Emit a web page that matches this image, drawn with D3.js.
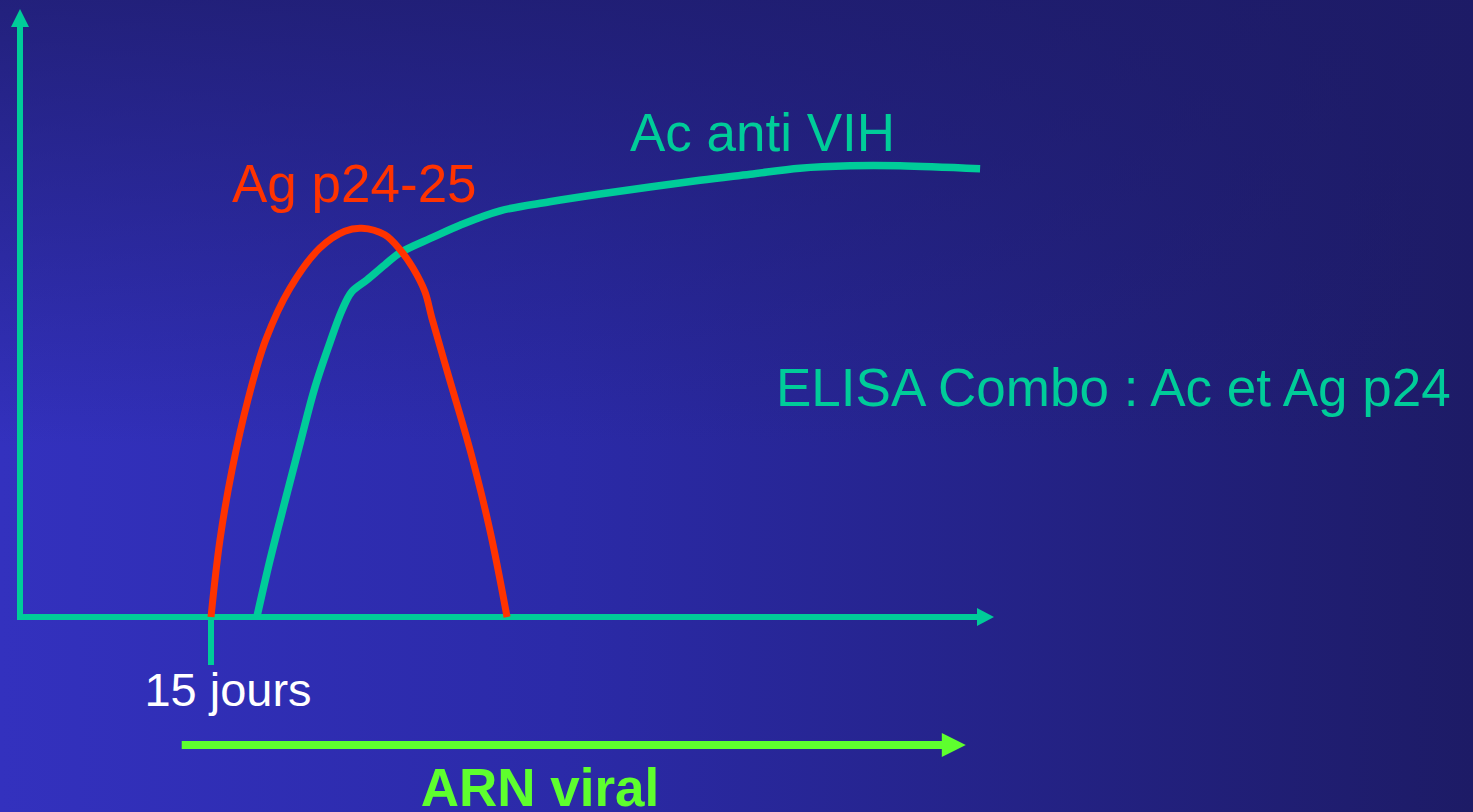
<!DOCTYPE html>
<html>
<head>
<meta charset="utf-8">
<script src="https://cdn.jsdelivr.net/npm/d3@7/dist/d3.min.js"></script>
<style>
  html, body { margin: 0; padding: 0; background: #22207c; overflow: hidden; }
  svg { display: block; }
  text { font-family: "Liberation Sans", Arial, sans-serif; }
</style>
</head>
<body>
<svg id="chart" width="1473" height="812"></svg>
<script>
// Time after infection, in days
const agDays   = [15.0, 15.7, 16.65, 17.9, 19.3, 21.2, 23.55, 25.5, 26.85, 28.65, 29.85, 30.85, 31.8, 32.35, 33.75, 35.35, 36.9, 38.25];
// Ag p24-25 level (relative units)
const agLevel  = [0, 12.8, 24.5, 36.2, 46.2, 54.8, 61.5, 64.3, 64.8, 63.7, 61.2, 58.2, 54.2, 49.8, 39.5, 27.8, 14.5, 0];

const acDays   = [18.6, 19.6, 20.8, 22.0, 23.15, 24.35, 25.3, 26.05, 27.25, 28.65, 29.85, 32.45, 34.55, 37.7, 41.6, 45.55, 53.4, 57.35, 61.25, 65.2, 69.1, 75.4];
// Ac anti VIH level (relative units)
const acLevel  = [0, 9.2, 19.2, 29.0, 38.2, 45.8, 51.2, 54.2, 56.2, 58.7, 60.7, 63.3, 65.3, 67.7, 69.2, 70.5, 72.8, 73.8, 74.8, 75.2, 75.2, 74.7];

const tickDay   = 15;
const tickLabel = "15 jours";
const arnSpan   = [12.7, 74.2];
const labels = {
  ag: "Ag p24-25",
  ac: "Ac anti VIH",
  elisa: "ELISA Combo : Ac et Ag p24",
  arn: "ARN viral"
};

const W = 1473, H = 812;
const TEAL = "#00cc99", RED = "#ff3300", GREEN = "#5eff2e";

const svg = d3.select("#chart");
const defs = svg.append("defs");

// Slide background: bright at the lower left, darker towards the right and the top
const gH = defs.append("linearGradient").attr("id", "bgH")
  .attr("x1", "0").attr("y1", "0").attr("x2", "1").attr("y2", "0");
gH.append("stop").attr("offset", "0").attr("stop-color", "#3331be");
gH.append("stop").attr("offset", "0.38").attr("stop-color", "#2b2aa8");
gH.append("stop").attr("offset", "1").attr("stop-color", "#1d1b66");
const gV = defs.append("linearGradient").attr("id", "bgV")
  .attr("x1", "0").attr("y1", "0").attr("x2", "0").attr("y2", "1");
gV.append("stop").attr("offset", "0").attr("stop-color", "#1d1b66").attr("stop-opacity", 0.75);
gV.append("stop").attr("offset", "0.55").attr("stop-color", "#1d1b66").attr("stop-opacity", 0);
svg.append("rect").attr("width", W).attr("height", H).attr("fill", "url(#bgH)");
svg.append("rect").attr("width", W).attr("height", H).attr("fill", "url(#bgV)");

const x = d3.scaleLinear().domain([0, 75]).range([20, 975]);
const y = d3.scaleLinear().domain([0, 100]).range([617, 17]);

// Axes with arrowheads
const axisG = svg.append("g");
axisG.append("line")
  .attr("x1", x(0)).attr("x2", x(0))
  .attr("y1", y(0)).attr("y2", y(100) + 8)
  .attr("stroke", TEAL).attr("stroke-width", 6);
axisG.append("path")
  .attr("d", `M${x(0)},${y(100) - 8} L${x(0) - 9},${y(100) + 10} L${x(0) + 9},${y(100) + 10} Z`)
  .attr("fill", TEAL);
axisG.append("line")
  .attr("x1", x(0) - 3).attr("x2", x(75) + 4)
  .attr("y1", y(0)).attr("y2", y(0))
  .attr("stroke", TEAL).attr("stroke-width", 6);
axisG.append("path")
  .attr("d", `M${x(75) + 19},${y(0)} L${x(75) + 2},${y(0) - 9} L${x(75) + 2},${y(0) + 9} Z`)
  .attr("fill", TEAL);

// 15-day tick and label
axisG.append("line")
  .attr("x1", x(tickDay)).attr("x2", x(tickDay))
  .attr("y1", y(0)).attr("y2", y(0) + 48)
  .attr("stroke", TEAL).attr("stroke-width", 6);
svg.append("text")
  .attr("x", x(tickDay) + 17).attr("y", 706)
  .attr("text-anchor", "middle")
  .attr("fill", "#ffffff").attr("font-size", 47)
  .text(tickLabel);

// Curves
const line = d3.line()
  .x(d => x(d[0])).y(d => y(d[1]))
  .curve(d3.curveCatmullRom.alpha(0.5));

svg.append("path")
  .datum(d3.zip(acDays, acLevel))
  .attr("d", line)
  .attr("fill", "none").attr("stroke", TEAL).attr("stroke-width", 7.5)
  .attr("stroke-linejoin", "round");

svg.append("path")
  .datum(d3.zip(agDays, agLevel))
  .attr("d", line)
  .attr("fill", "none").attr("stroke", RED).attr("stroke-width", 7)
  .attr("stroke-linejoin", "round");

// Curve labels
svg.append("text").attr("x", 232).attr("y", 202)
  .attr("fill", RED).attr("font-size", 53).text(labels.ag);
svg.append("text").attr("x", 630).attr("y", 151)
  .attr("fill", TEAL).attr("font-size", 53).text(labels.ac);
svg.append("text").attr("x", 776).attr("y", 406)
  .attr("fill", TEAL).attr("font-size", 53).text(labels.elisa);

// Viral RNA detection window
svg.append("line")
  .attr("x1", x(arnSpan[0])).attr("x2", x(arnSpan[1]) - 20)
  .attr("y1", 745).attr("y2", 745)
  .attr("stroke", GREEN).attr("stroke-width", 8);
svg.append("path")
  .attr("d", `M${x(arnSpan[1]) + 1},745 L${x(arnSpan[1]) - 23},733 L${x(arnSpan[1]) - 23},757 Z`)
  .attr("fill", GREEN);
svg.append("text").attr("x", 540).attr("y", 806)
  .attr("text-anchor", "middle")
  .attr("fill", GREEN).attr("font-size", 53).attr("font-weight", "bold")
  .text(labels.arn);
</script>
</body>
</html>
